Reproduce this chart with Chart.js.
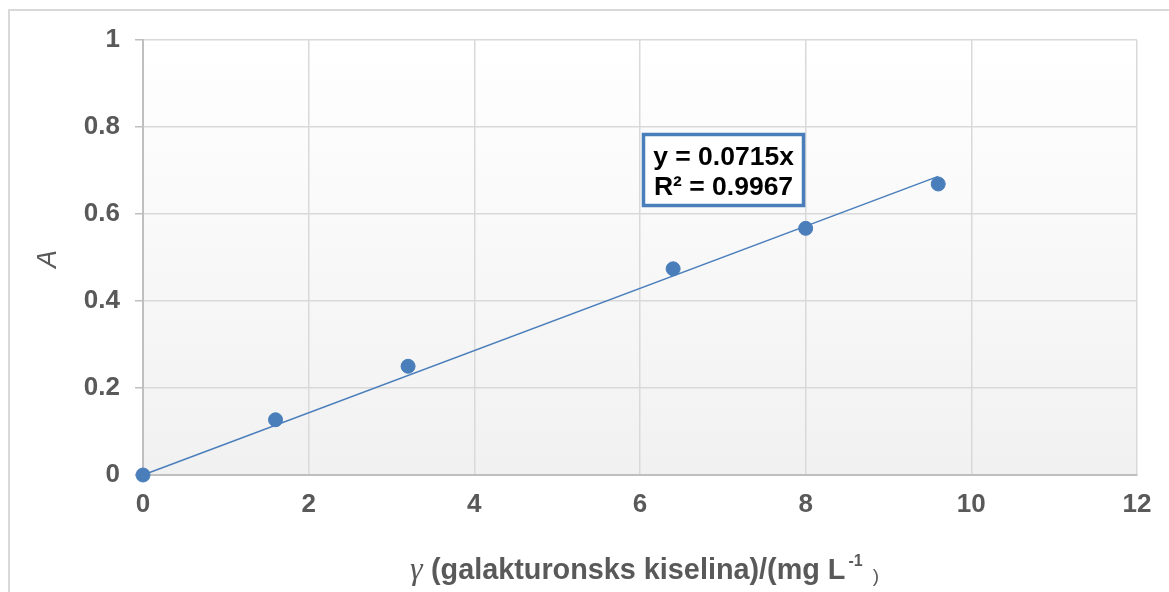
<!DOCTYPE html>
<html>
<head>
<meta charset="utf-8">
<script src="https://cdn.jsdelivr.net/npm/chart.js@4.4.0/dist/chart.umd.min.js"></script>
<style>
  html, body { margin: 0; padding: 0; background: #ffffff; }
  #wrap { width: 1169px; height: 592px; position: relative; }
</style>
</head>
<body>
<div id="wrap"><canvas id="c" width="1169" height="592"></canvas></div>
<script>
// ---- data ----
const concentrations = [0, 1.6, 3.2, 6.4, 8, 9.6];
const absorbances = [0, 0.127, 0.25, 0.474, 0.567, 0.669];
const trendSlope = 0.0715;
const trendRange = [0, 9.6];
const equationLines = ["y = 0.0715x", "R² = 0.9967"];
const xTicks = [0, 2, 4, 6, 8, 10, 12];
const yTicks = [0, 0.2, 0.4, 0.6, 0.8, 1];
const yTitle = "A";
const xTitleParts = ["γ", "(galakturonsks kiselina)/(mg L", "-1", ")"];

const blue = "#4a7ebb";
const tickColor = "#595959";
const sans = '"Liberation Sans", Arial, sans-serif';

const pointData = concentrations.map((x, i) => ({ x: x, y: absorbances[i] }));
const trendData = trendRange.map(x => ({ x: x, y: trendSlope * x }));

const decor = {
  id: 'decor',
  beforeDraw(chart) {
    const ctx = chart.ctx, a = chart.chartArea;
    ctx.save();
    const g = ctx.createLinearGradient(0, a.top, 0, a.bottom);
    g.addColorStop(0, '#ffffff');
    g.addColorStop(1, '#f1f1f1');
    ctx.fillStyle = g;
    ctx.fillRect(a.left, a.top, a.right - a.left, a.bottom - a.top);
    // outer frame
    ctx.strokeStyle = '#d9d9d9';
    ctx.lineWidth = 2;
    ctx.beginPath();
    ctx.moveTo(9, 600);
    ctx.lineTo(9, 10);
    ctx.lineTo(1180, 10);
    ctx.stroke();
    ctx.restore();
  },
  afterDraw(chart) {
    const ctx = chart.ctx;
    ctx.save();
    // y title
    ctx.fillStyle = tickColor;
    ctx.font = 'italic 27px ' + sans;
    ctx.translate(48, 259);
    ctx.rotate(-Math.PI / 2);
    ctx.textAlign = 'center';
    ctx.textBaseline = 'middle';
    ctx.fillText(yTitle, 0, 0);
    ctx.restore();

    // x title
    ctx.save();
    ctx.fillStyle = tickColor;
    ctx.textBaseline = 'alphabetic';
    ctx.textAlign = 'left';
    const base = 579;
    ctx.font = 'italic 32px "Liberation Serif", "Times New Roman", serif';
    ctx.fillText(xTitleParts[0], 410, base);
    ctx.font = 'bold 28.8px ' + sans;
    ctx.fillText(xTitleParts[1], 431, base);
    let x = 431 + ctx.measureText(xTitleParts[1]).width + 3;
    ctx.font = 'bold 16px ' + sans;
    ctx.fillText(xTitleParts[2], x, 566);
    x += ctx.measureText(xTitleParts[2]).width + 10;
    ctx.font = '19px ' + sans;
    ctx.fillText(xTitleParts[3], x, 582);
    ctx.restore();

    // equation box
    ctx.save();
    const bx = 643.5, by = 134.5, bw = 160, bh = 71;
    ctx.fillStyle = '#ffffff';
    ctx.fillRect(bx, by, bw, bh);
    ctx.strokeStyle = blue;
    ctx.lineWidth = 3.5;
    ctx.strokeRect(bx, by, bw, bh);
    ctx.fillStyle = '#000000';
    ctx.font = 'bold 26.5px ' + sans;
    ctx.textAlign = 'center';
    ctx.textBaseline = 'alphabetic';
    ctx.fillText(equationLines[0], bx + bw / 2, 165);
    ctx.fillText(equationLines[1], bx + bw / 2, 195);
    ctx.restore();
  }
};

new Chart(document.getElementById('c'), {
  type: 'scatter',
  data: {
    datasets: [
      {
        type: 'line',
        label: 'trend',
        data: trendData,
        borderColor: blue,
        borderWidth: 1.5,
        pointRadius: 0,
        fill: false,
        clip: false,
        order: 2
      },
      {
        label: 'A',
        data: pointData,
        backgroundColor: blue,
        borderColor: blue,
        pointRadius: 7,
        pointHoverRadius: 7,
        clip: false,
        order: 1
      }
    ]
  },
  options: {
    responsive: false,
    animation: false,
    devicePixelRatio: 1,
    layout: { padding: { left: 0, top: 40, right: 32, bottom: 0 } },
    plugins: { legend: { display: false }, tooltip: { enabled: false } },
    scales: {
      x: {
        type: 'linear',
        min: 0, max: 12,
        afterBuildTicks(s) { s.ticks = xTicks.map(v => ({ value: v })); },
        afterFit(s) { s.height = 117; },
        grid: { color: '#d9d9d9', lineWidth: 1.5, drawTicks: false },
        border: { color: '#bfbfbf', width: 2 },
        ticks: {
          padding: 14,
          color: tickColor,
          font: { family: sans, size: 26, weight: 'bold' },
          callback: v => String(v)
        }
      },
      y: {
        type: 'linear',
        min: 0, max: 1,
        afterBuildTicks(s) { s.ticks = yTicks.map(v => ({ value: v })); },
        afterFit(s) { s.width = 143; },
        grid: { color: '#d9d9d9', lineWidth: 1.5, tickLength: 8, tickColor: '#bfbfbf' },
        border: { color: '#bfbfbf', width: 2 },
        ticks: {
          padding: 15,
          color: tickColor,
          font: { family: sans, size: 26, weight: 'bold' },
          callback: v => String(v)
        }
      }
    }
  },
  plugins: [decor]
});
</script>
</body>
</html>
